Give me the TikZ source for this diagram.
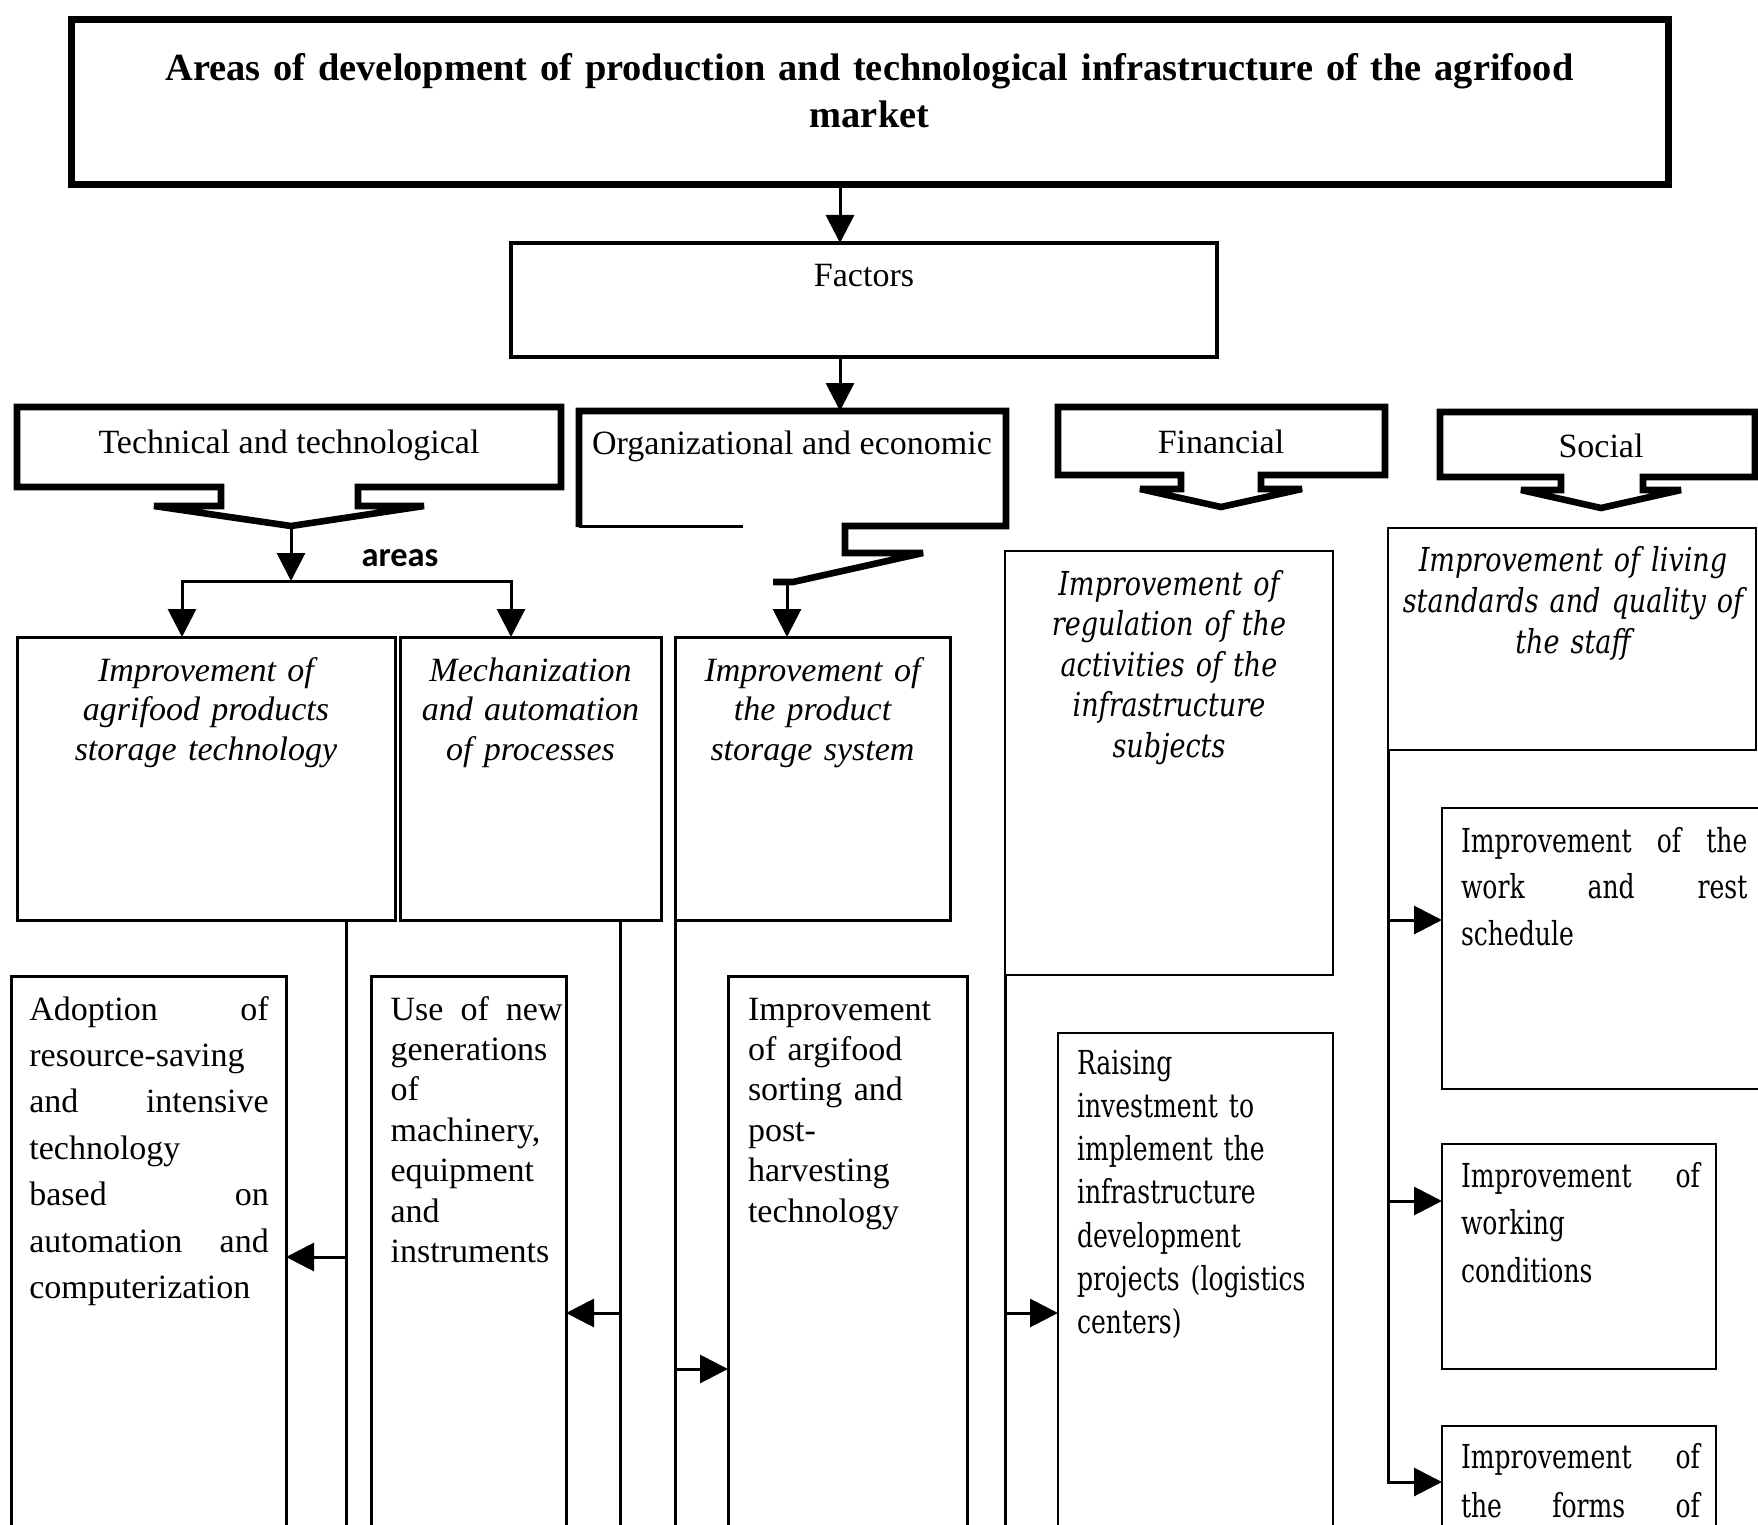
\documentclass[tikz,border=0pt]{standalone}
\usepackage{fontspec}
\setmainfont{Liberation Serif}
\newfontfamily\dvs{DejaVu Serif}[FakeStretch=0.76]
\newfontfamily\dvi{DejaVu Serif}[FakeStretch=0.82]
\newfontfamily\carl{Carlito}
\usetikzlibrary{arrows.meta,fit}
\newcommand\jl[2]{\makebox[#1][l]{#2}}
\begin{document}
\begin{tikzpicture}[x=0.5pt,y=-0.5pt,
  box/.style={draw,line width=1.5pt,inner sep=0pt,outer sep=0pt},
  ghost/.style={inner sep=0pt,outer sep=0pt},
  conn/.style={line width=1.5pt},
  arr/.style={line width=1.5pt,-{Triangle[length=14pt,width=14pt]}},
  callout/.style={line width=3.3pt,line join=miter,miter limit=2},
  lbl/.style={inner sep=0pt,outer sep=0pt,anchor=base,font=\fontsize{17}{20}\selectfont},
  tnr/.style={lbl,anchor=base west,align=left},
]
\fill[white] (0,0) rectangle (1758,1525);
\useasboundingbox (0,0) rectangle (1758,1525);
\clip (0,0) rectangle (1758,1525);

% ---------- top ----------
\node[box,fit={(71,20) (1668,185)},line width=3.5pt] (titlebox) {};
\node[lbl,font=\fontsize{19.2}{23.5}\selectfont\bfseries,text width=740pt,align=center] (titletext) at (869.5,81)
  {Areas of development of production and technological infrastructure of the agrifood\\market};
\node[box,fit={(511,243) (1217,357)},line width=1.8pt] (factors) {};
\node[lbl] (factorstext) at (864,286) {Factors};

\coordinate (xa) at (840,0);
\draw[arr] (titlebox.south -| xa) -- (factors.north -| xa);

% ---------- factor groups (callouts) ----------
\node[ghost,fit={(17,407) (561,487)}] (tech) {};
\node[ghost,fit={(579,411) (1006,526)}] (org) {};
\node[ghost,fit={(1058,407) (1385,475)}] (fin) {};
\node[ghost,fit={(1440,412) (1755,477)}] (soc) {};

\draw[arr] (factors.south -| xa) -- (org.north -| xa);

\draw[callout] (221,487) -- (17,487) -- (17,407) -- (561,407) -- (561,487) -- (358,487) -- (358,506)
  -- (424,506) -- (291,526) -- (154,506) -- (221,506) -- cycle;
\draw[callout] (579,527) -- (579,411) -- (1006,411) -- (1006,526) -- (845,526) -- (845,553)
  -- (923,553) -- (793,582) -- (773,582);
\draw[line width=1.5pt] (579,526) -- (743,526);
\draw[callout] (1181,475) -- (1058,475) -- (1058,407) -- (1385,407) -- (1385,475) -- (1261,475) -- (1261,489)
  -- (1302,489) -- (1221,507) -- (1140,489) -- (1181,489) -- cycle;
\draw[callout] (1561,477) -- (1440,477) -- (1440,412) -- (1755,412) -- (1755,477) -- (1643,477) -- (1643,490)
  -- (1681,490) -- (1601,508) -- (1521,490) -- (1561,490) -- cycle;

\node[lbl] (techtext) at (289,453) {Technical and technological};
\node[lbl] (orgtext) at (792,454) {Organizational and economic};
\node[lbl] (fintext) at (1221,453) {Financial};
\node[lbl] (soctext) at (1601,457) {Social};
\node[lbl,font=\carl\bfseries\fontsize{17.2}{20}\selectfont] (areas) at (400,566) {areas};

% ---------- second row ----------
\node[box,fit={(17,637) (395,920)}] (A) {};
\node[box,fit={(400,637) (661,920)}] (B) {};
\node[box,fit={(675,637) (950,920)}] (C) {};
\node[box,fit={(1005,551) (1333,975)},line width=1.3pt] (finbox) {};
\node[box,fit={(1388,528) (1756,750)},line width=1.3pt] (socbox) {};

\node[lbl,font=\fontsize{17}{19.8}\selectfont\itshape,text width=185pt,align=center] (Atext) at (206,681)
  {Improvement of\\agrifood products\\storage technology};
\node[lbl,font=\fontsize{17}{19.8}\selectfont\itshape,text width=125pt,align=center] (Btext) at (530.5,681)
  {Mechanization\\and automation\\of processes};
\node[lbl,font=\fontsize{17}{19.8}\selectfont\itshape,text width=135pt,align=center] (Ctext) at (812.5,681)
  {Improvement of\\the product\\storage system};
\node[lbl,font=\dvi\itshape\fontsize{16.5}{20.25}\selectfont,text width=160pt,align=center] (fintext2) at (1169,595)
  {Improvement of\\regulation of the\\activities of the\\infrastructure\\subjects};
\node[lbl,font=\dvi\itshape\fontsize{16.5}{20.5}\selectfont,text width=180pt,align=center] (soctext2) at (1573,571)
  {Improvement of living\\standards and quality of\\the staff};

% connectors to second row
\coordinate (techtip) at (291,526);
\coordinate (split) at (291,581);
\coordinate (xA) at (182,0);
\coordinate (xB) at (511,0);
\coordinate (orgtip) at (787,582);
\draw[arr] (techtip) -- (split);
\draw[arr] (split) -| (A.north -| xA);
\draw[arr] (split) -| (B.north -| xB);
\draw[arr] (orgtip) -- (C.north -| orgtip);

% ---------- third row ----------
\node[box,fit={(11,976) (286,1540)}] (D) {};
\node[box,fit={(371,976) (566,1540)}] (E) {};
\node[box,fit={(728,976) (967,1540)}] (F) {};
\node[box,fit={(1058,1033) (1333,1540)},line width=1.3pt] (raise) {};
\node[box,fit={(1442,808) (1775,1089)},line width=1.3pt] (S1) {};
\node[box,fit={(1442,1144) (1716,1369)},line width=1.3pt] (S2) {};
\node[box,fit={(1442,1426) (1716,1540)},line width=1.3pt] (S3) {};

\node[tnr,font=\fontsize{17}{23.2}\selectfont,text width=122pt] (Dtext) at (29.4,1020)
  {\jl{119.7pt}{Adoption\hfill of}\\resource-saving\\\jl{119.7pt}{and\hfill intensive}\\technology\\\jl{119.7pt}{based\hfill on}\\\jl{119.7pt}{automation\hfill and}\\computerization};
\node[tnr,font=\fontsize{17}{20.2}\selectfont,text width=88pt] (Etext) at (390.6,1020)
  {\jl{86pt}{Use\hfill of\hfill new}\\generations\\of\\machinery,\\equipment\\and\\instruments};
\node[tnr,font=\fontsize{17}{20.2}\selectfont,text width=110pt] (Ftext) at (748,1020)
  {Improvement\\of argifood\\sorting and\\post-\\harvesting\\technology};
\node[tnr,font=\dvs\fontsize{16.5}{21.65}\selectfont,text width=130pt] (raisetext) at (1077,1074)
  {Raising\\investment to\\implement the\\infrastructure\\development\\projects (logistics\\centers)};
\node[tnr,font=\dvs\fontsize{16.5}{23.3}\selectfont,text width=145pt] (S1text) at (1461,852)
  {\jl{143.2pt}{Improvement\hfill of\hfill the}\\\jl{143.2pt}{work\hfill and\hfill rest}\\schedule};
\node[tnr,font=\dvs\fontsize{16.5}{23.75}\selectfont,text width=122pt] (S2text) at (1461,1187)
  {\jl{119.5pt}{Improvement\hfill of}\\working\\conditions};
\node[tnr,font=\dvs\fontsize{16.5}{24.5}\selectfont,text width=122pt] (S3text) at (1461,1468)
  {\jl{119.5pt}{Improvement\hfill of}\\\jl{119.5pt}{the\hfill forms\hfill of}};

% vertical feeders and side arrows
\coordinate (bot) at (0,1540);
\coordinate (lA) at (346,1257);
\coordinate (lB) at (620,1313);
\coordinate (lC) at (675,1369);
\coordinate (lF) at (1005,1313);
\coordinate (lS1) at (1388,920);
\coordinate (lS2) at (1388,1201);
\coordinate (lS3) at (1388,1482);

\draw[conn] (A.south -| lA) -- (lA |- bot);
\draw[arr] (lA) -- (D.east |- lA);
\draw[conn] (B.south -| lB) -- (lB |- bot);
\draw[arr] (lB) -- (E.east |- lB);
\draw[conn] (C.south west) -- (C.south west |- bot);
\draw[arr] (lC) -- (F.west |- lC);
\draw[conn] (finbox.south west) -- (finbox.south west |- bot);
\draw[arr] (lF) -- (raise.west |- lF);
\draw[arr] (socbox.south west) |- (S3.west |- lS3);
\draw[arr] (lS1) -- (S1.west |- lS1);
\draw[arr] (lS2) -- (S2.west |- lS2);
\end{tikzpicture}
\end{document}
